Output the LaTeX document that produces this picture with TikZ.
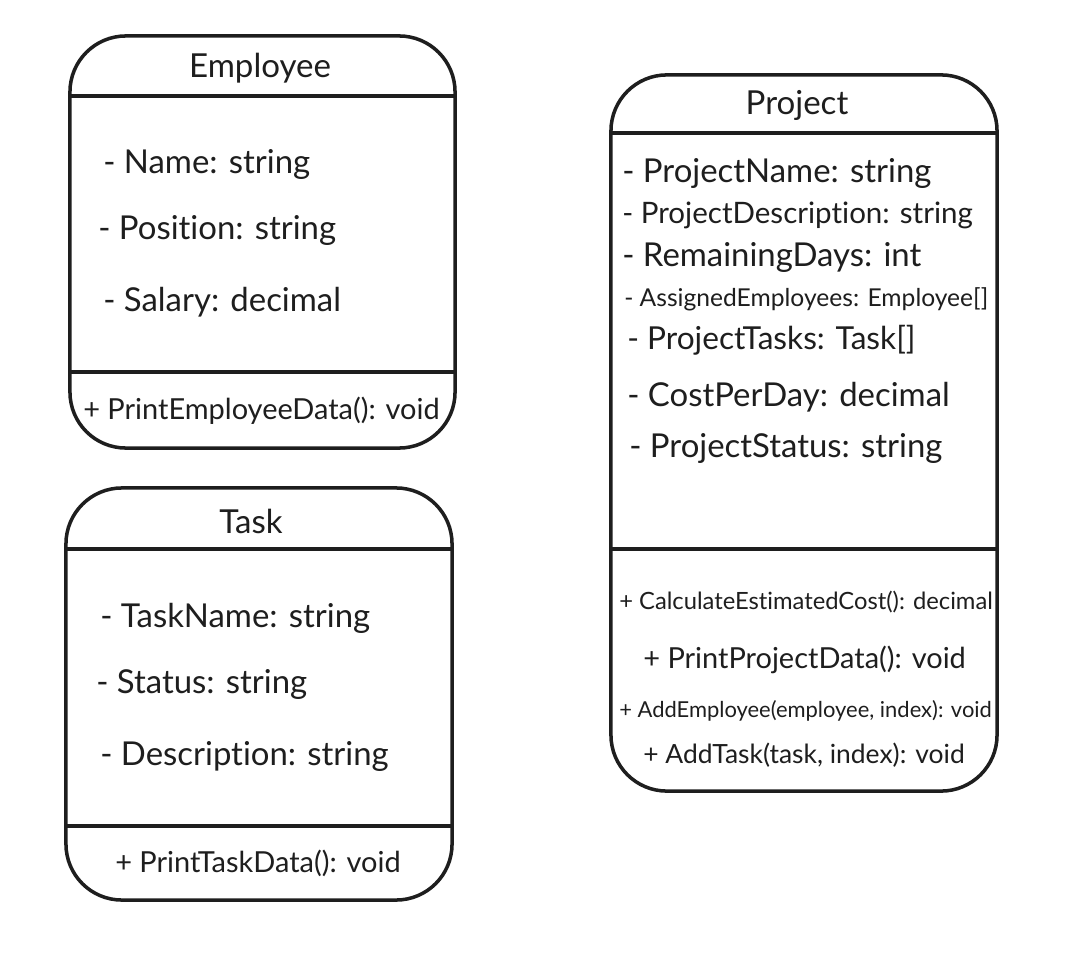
\documentclass[tikz,border=0pt]{standalone}
\usepackage{fontspec}
\setmainfont{Lato}[Ligatures=NoCommon]
\usepackage{xcolor}
\usetikzlibrary{positioning}
\definecolor{umlInk}{HTML}{1E1E1E}

\begin{document}
\begin{tikzpicture}[
  x=0.025cm, y=-0.025cm,
  cls/.style={draw=umlInk, fill=white, line width=2.5pt, rounded corners=1.4cm,
              inner sep=0pt},
  sep/.style={draw=umlInk, line width=2.5pt},
  ttl/.style={text=umlInk, inner sep=0pt, yshift=-1.8pt,
              font=\fontsize{23.5}{28}\selectfont},
  attr/.style={text=umlInk, inner sep=0pt, anchor=west, yshift=-1.5pt,
               font=\fontsize{23.4}{28}\selectfont},
  attrM/.style={attr, font=\fontsize{21}{25}\selectfont},
  attrS/.style={attr, font=\fontsize{17.5}{21}\selectfont},
  meth/.style={attr, font=\fontsize{20.6}{25}\selectfont},
  methS/.style={attr, font=\fontsize{16}{19}\selectfont},
]
\useasboundingbox (0,0) rectangle (1080,960);

% Employee
\node[cls, minimum width=9.625cm, minimum height=10.3cm] (emp) at (262.5,242) {};
\draw[sep] (emp.west |- 0,96) -- (emp.east |- 0,96);
\draw[sep] (emp.west |- 0,372) -- (emp.east |- 0,372);
\node[ttl] (empTitle) at (260,66) {Employee};
\node[attr] (empName) at (103,162) {- Name: string};
\node[attr] (empPos) at (98,228) {- Position: string};
\node[attr] (empSal) at (103,300) {- Salary: decimal};
\node[meth] (empPrint) at (83,409) {+ PrintEmployeeData(): void};

% Task
\node[cls, minimum width=9.65cm, minimum height=10.3cm] (task) at (259,694) {};
\draw[sep] (task.west |- 0,549) -- (task.east |- 0,549);
\draw[sep] (task.west |- 0,826) -- (task.east |- 0,826);
\node[ttl] (taskTitle) at (251,519) {Task};
\node[attr] (taskName) at (100,616) {- TaskName: string};
\node[attr] (taskStatus) at (96,682) {- Status: string};
\node[attr] (taskDesc) at (100,754) {- Description: string};
\node[meth] (taskPrint) at (115,861) {+ PrintTaskData(): void};

% Project
\node[cls, minimum width=9.65cm, minimum height=17.9cm] (proj) at (804,433) {};
\draw[sep] (proj.west |- 0,133) -- (proj.east |- 0,133);
\draw[sep] (proj.west |- 0,549) -- (proj.east |- 0,549);
\node[ttl] (projTitle) at (797,103) {Project};
\node[attr] (projName) at (622,171) {- ProjectName: string};
\node[attrM] (projDesc) at (622,213) {- ProjectDescription: string};
\node[attr] (projDays) at (622,255) {- RemainingDays: int};
\node[attrS] (projEmps) at (624,297) {- AssignedEmployees: Employee[]};
\node[attr, font=\fontsize{22.5}{27}\selectfont] (projTasks) at (627,338) {- ProjectTasks: Task[]};
\node[attr] (projCost) at (627,395) {- CostPerDay: decimal};
\node[attr] (projStatus) at (629,446) {- ProjectStatus: string};
\node[methS, font=\fontsize{16.9}{20}\selectfont] (projCalc) at (619,600) {+ CalculateEstimatedCost(): decimal};
\node[meth] (projPrint) at (643,658) {+ PrintProjectData(): void};
\node[methS, font=\fontsize{15.6}{19}\selectfont] (projAddEmp) at (619,709) {+ AddEmployee(employee, index): void};
\node[meth, font=\fontsize{18.8}{23}\selectfont] (projAddTask) at (643,753) {+ AddTask(task, index): void};
\end{tikzpicture}
\end{document}
